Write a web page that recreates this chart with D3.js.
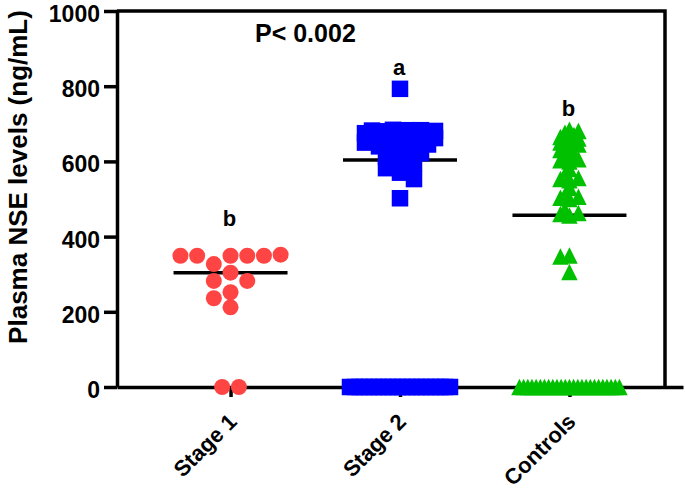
<!DOCTYPE html>
<html lang="en">
<head>
<meta charset="utf-8">
<title>Plasma NSE levels</title>
<script src="https://d3js.org/d3.v7.min.js"></script>
<style>
  body { margin: 0; background: #fff; }
  svg { display: block; }
  svg text { font-family: "Liberation Sans", Arial, sans-serif; font-weight: bold; fill: #000; }
</style>
</head>
<body>
<div id="chart"></div>
<script>
// groups and values (ng/mL)
var groups = ["Stage 1", "Stage 2", "Controls"];

var stage1 = [352, 349, 349, 349, 349, 349, 327, 304, 282, 282, 252, 236, 212, 0, 0];

var stage2 = [793, 684, 683, 683, 682, 681, 680, 679, 678, 676, 675, 673, 670, 668, 666,
              663, 662, 660, 657, 654, 650, 645, 640, 636, 630, 622, 612, 604, 595, 582,
              570, 553, 502,
              0, 0, 0, 0, 0, 0, 0, 0, 0, 0, 0, 0, 0, 0, 0, 0, 0, 0, 0, 0, 0, 0];

var controls = [684, 681, 676, 670, 665, 661, 658, 650, 645, 636, 630, 620, 612, 606,
                603, 600, 580, 565, 556, 553, 550, 530, 510, 506, 503, 500, 470, 463,
                460, 456, 350, 347, 306,
                0, 0, 0, 0, 0, 0, 0, 0, 0, 0, 0, 0, 0, 0, 0, 0, 0, 0, 0, 0, 0, 0, 0, 0, 0];

var means = [304, 604, 457];
var letters = ["b", "a", "b"];
var yTicks = [0, 200, 400, 600, 800, 1000];
var pText = "P< 0.002";

var width = 685, height = 492;

var svg = d3.select("#chart").append("svg")
    .attr("width", width)
    .attr("height", height);

var y = d3.scaleLinear().domain([0, 1000]).range([387, 11]);
var x = d3.scalePoint().domain(groups).range([117, 683]).padding(0.67);

// y axis
var yAxis = svg.append("g")
    .attr("transform", "translate(117,0)")
    .call(d3.axisLeft(y).tickValues(yTicks).tickFormat(d3.format("d"))
      .tickSize(13).tickSizeOuter(0).tickPadding(4));
yAxis.selectAll("path, line").attr("stroke", "#000").attr("stroke-width", 3.5);
yAxis.selectAll("text").attr("dy", "0.46em").style("font-size", "23px");

// x axis
var xAxis = svg.append("g")
    .attr("transform", "translate(0,387)")
    .call(d3.axisBottom(x).tickSize(10).tickSizeOuter(0));
xAxis.selectAll("path, line").attr("stroke", "#000").attr("stroke-width", 3.5);
xAxis.selectAll("text")
    .attr("text-anchor", "end")
    .attr("dy", null)
    .attr("y", null)
    .attr("transform", "translate(7,36) rotate(-45)")
    .style("font-size", "22px");

// frame on top and right
svg.append("path")
    .attr("d", "M117," + y(1000) + "H665V" + y(0))
    .attr("fill", "none")
    .attr("stroke", "#000")
    .attr("stroke-width", 3.5);

// y axis title
svg.append("text")
    .attr("transform", "translate(27,177) rotate(-90)")
    .attr("text-anchor", "middle")
    .style("font-size", "26px")
    .text("Plasma NSE levels (ng/mL)");

svg.append("text")
    .attr("x", 255)
    .attr("y", 42)
    .style("font-size", "25px")
    .text(pText);

// mean lines
svg.selectAll(".mean")
    .data(means)
    .enter().append("line")
    .attr("x1", function(d, i) { return x(groups[i]) - 57; })
    .attr("x2", function(d, i) { return x(groups[i]) + 57; })
    .attr("y1", function(d) { return y(d); })
    .attr("y2", function(d) { return y(d); })
    .attr("stroke", "#000")
    .attr("stroke-width", 3.5);

// scatter layout: nonzero values go into slots around the centre,
// zeros are spread in one row that fits the column
function layout(vals, mean, slot, minDist, maxSlots, size) {
  var pts = vals.filter(function(v) { return v > 0; })
    .map(function(v) { return {v: v, y: y(v)}; });
  pts.sort(function(a, b) { return Math.abs(a.v - mean) - Math.abs(b.v - mean); });
  var order = [0];
  for (var k = 1; k <= maxSlots; k++) order.push(-k, k);
  var placed = [];
  pts.forEach(function(p) {
    var best = null, bestD = -1;
    for (var j = 0; j < order.length; j++) {
      var px = order[j] * slot;
      var dmin = d3.min(placed, function(q) { return Math.hypot(q.x - px, q.y - p.y); });
      if (dmin === undefined || dmin >= minDist) { best = px; break; }
      if (dmin > bestD) { bestD = dmin; best = px; }
    }
    p.x = best;
    placed.push(p);
  });
  var zeros = vals.filter(function(v) { return v === 0; });
  var n = zeros.length;
  var step = n > 1 ? Math.min(size, 100 / (n - 1)) : 0;
  zeros.forEach(function(v, i) {
    placed.push({v: 0, y: y(0), x: (i - (n - 1) / 2) * step});
  });
  return placed;
}

var s1 = layout(stage1, means[0], 16.7, 14.5, 3, 16.7);
var s2 = layout(stage2, means[1], 7, 11, 5, 16.5);
var s3 = layout(controls, means[2], 4.5, 7, 2, 16.5);

svg.append("g").selectAll("circle")
    .data(s1)
    .enter().append("circle")
    .attr("cx", function(d) { return x(groups[0]) + d.x; })
    .attr("cy", function(d) { return d.y; })
    .attr("r", 8)
    .attr("fill", "#ff4444");

svg.append("g").selectAll("rect")
    .data(s2)
    .enter().append("rect")
    .attr("x", function(d) { return x(groups[1]) + d.x - 8.25; })
    .attr("y", function(d) { return d.y - 8.25; })
    .attr("width", 16.5)
    .attr("height", 16.5)
    .attr("fill", "#0000ff");

svg.append("g").selectAll("path")
    .data(s3)
    .enter().append("path")
    .attr("transform", function(d) { return "translate(" + (x(groups[2]) + d.x) + "," + d.y + ")"; })
    .attr("d", "M0,-8.25L8.25,8.25L-8.25,8.25Z")
    .attr("fill", "#00c000");

// significance letters above each group
var letterGap = [20, 6, 6];
var groupData = [stage1, stage2, controls];
svg.selectAll(".letter")
    .data(letters)
    .enter().append("text")
    .attr("x", function(d, i) { return x(groups[i]) - 1; })
    .attr("y", function(d, i) { return y(d3.max(groupData[i])) - 8.25 - letterGap[i]; })
    .attr("text-anchor", "middle")
    .style("font-size", "22px")
    .text(function(d) { return d; });
</script>
</body>
</html>
